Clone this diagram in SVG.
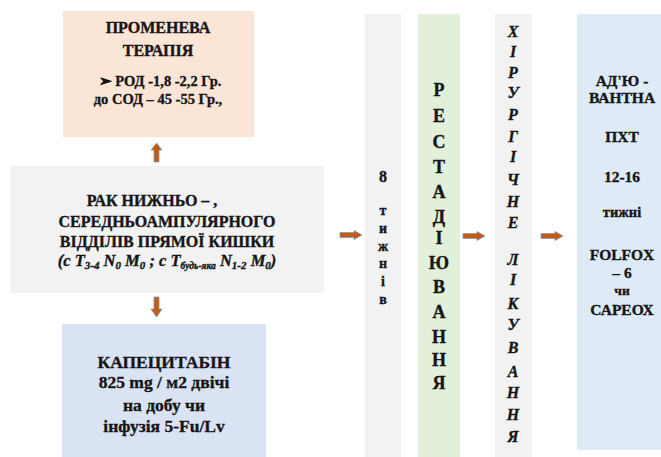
<svg xmlns="http://www.w3.org/2000/svg" width="661" height="457" viewBox="0 0 661 457">
  <style>
    .t { font-family: "Liberation Serif", "Times New Roman", serif; font-weight: bold; fill: #161616; stroke: #161616; stroke-width: 0.35; text-anchor: middle; }
    .i { font-style: italic; }
    .arrow { fill: #C55A11; stroke: #7F9BB8; stroke-width: 0.8; }
  </style>
  <defs>
    <!-- block arrow pointing right, centred on its tip line -->
    <path id="ra" d="M0,-2.5 H14 V-4.5 L22,0 L14,4.5 V2.5 H0 Z"/>
  </defs>
  <rect width="661" height="457" fill="#ffffff"/>

  <g id="radiotherapy">
    <rect x="63" y="11" width="191" height="126" fill="#FBE5D6"/>
    <text class="t" x="158" y="33" font-size="16">ПРОМЕНЕВА</text>
    <text class="t" x="158" y="56" font-size="16">ТЕРАПІЯ</text>
    <text class="t" x="160" y="86" font-size="14.5">➢  РОД -1,8 -2,2 Гр.</text>
    <text class="t" x="158" y="104" font-size="14.5">до СОД – 45 -55 Гр.,</text>
  </g>

  <g id="cancer">
    <rect x="10" y="166" width="314" height="127" fill="#F2F2F2"/>
    <text class="t" x="152" y="206" font-size="16">РАК НИЖНЬО – ,</text>
    <text class="t" x="167" y="227" font-size="16">СЕРЕДНЬОАМПУЛЯРНОГО</text>
    <text class="t" x="167" y="247" font-size="16">ВІДДІЛІВ ПРЯМОЇ КИШКИ</text>
    <text class="t i" x="167" y="266" font-size="16.5">(с T<tspan font-size="11" dy="3">3-4</tspan><tspan dy="-3"> N</tspan><tspan font-size="11" dy="3">0</tspan><tspan dy="-3"> M</tspan><tspan font-size="11" dy="3">0</tspan><tspan dy="-3"> ; с T</tspan><tspan font-size="9.5" dy="3">будь-яка</tspan><tspan dy="-3"> N</tspan><tspan font-size="11" dy="3">1-2</tspan><tspan dy="-3"> M</tspan><tspan font-size="11" dy="3">0</tspan><tspan dy="-3">)</tspan></text>
  </g>

  <g id="capecitabine">
    <rect x="62" y="324" width="204" height="133" fill="#DAE3F3"/>
    <text class="t" x="164" y="368" font-size="17.5">КАПЕЦИТАБІН</text>
    <text class="t" x="164" y="388" font-size="17.5">825 mg / м2  двічі</text>
    <text class="t" x="164" y="411" font-size="17.5">на добу чи</text>
    <text class="t" x="164" y="432" font-size="17.5">інфузія 5-Fu/Lv</text>
  </g>

  <g id="weeks">
    <rect x="365" y="14" width="36" height="443" fill="#F2F2F2"/>
    <text class="t" x="383" y="182" font-size="16">8</text>
    <g font-size="14">
      <text class="t" x="383" y="215">т</text>
      <text class="t" x="383" y="233">и</text>
      <text class="t" x="383" y="251">ж</text>
      <text class="t" x="383" y="268">н</text>
      <text class="t" x="383" y="286">і</text>
      <text class="t" x="383" y="304">в</text>
    </g>
  </g>

  <g id="restaging" font-size="18">
    <rect x="418" y="14" width="42" height="443" fill="#E2F0D9"/>
    <text class="t" x="439" y="96">Р</text>
    <text class="t" x="439" y="122">Е</text>
    <text class="t" x="439" y="148">С</text>
    <text class="t" x="439" y="173">Т</text>
    <text class="t" x="439" y="198">А</text>
    <text class="t" x="439" y="223">Д</text>
    <text class="t" x="439" y="244">І</text>
    <text class="t" x="439" y="269">Ю</text>
    <text class="t" x="439" y="293">В</text>
    <text class="t" x="439" y="318">А</text>
    <text class="t" x="439" y="343">Н</text>
    <text class="t" x="439" y="366">Н</text>
    <text class="t" x="439" y="389">Я</text>
  </g>

  <g id="surgery" font-size="16">
    <rect x="495" y="14" width="37" height="443" fill="#F2F2F2"/>
    <text class="t i" x="513" y="37">Х</text>
    <text class="t i" x="513" y="57">І</text>
    <text class="t i" x="513" y="78">Р</text>
    <text class="t i" x="513" y="98">У</text>
    <text class="t i" x="513" y="120">Р</text>
    <text class="t i" x="513" y="142">Г</text>
    <text class="t i" x="513" y="162">І</text>
    <text class="t i" x="513" y="185">Ч</text>
    <text class="t i" x="513" y="207">Н</text>
    <text class="t i" x="513" y="228">Е</text>
    <text class="t i" x="513" y="265">Л</text>
    <text class="t i" x="513" y="285">І</text>
    <text class="t i" x="513" y="309">К</text>
    <text class="t i" x="513" y="330">У</text>
    <text class="t i" x="513" y="353">В</text>
    <text class="t i" x="513" y="377">А</text>
    <text class="t i" x="513" y="398">Н</text>
    <text class="t i" x="513" y="420">Н</text>
    <text class="t i" x="513" y="442">Я</text>
  </g>

  <g id="adjuvant" font-size="15.5">
    <rect x="577" y="14" width="84" height="436" fill="#DEEBF7"/>
    <text class="t" x="622" y="86">АД'Ю -</text>
    <text class="t" x="622" y="103">ВАНТНА</text>
    <text class="t" x="622" y="142">ПХТ</text>
    <text class="t" x="622" y="182">12-16</text>
    <text class="t" x="622" y="217" font-size="14.5">тижні</text>
    <text class="t" x="622" y="260">FOLFOX</text>
    <text class="t" x="622" y="278">– 6</text>
    <text class="t" x="622" y="295" font-size="13.5">чи</text>
    <text class="t" x="622" y="315">САРЕОХ</text>
  </g>

  <g id="connectors">
    <!-- vertical arrows from the primary box -->
    <path class="arrow" d="M154,162 V150 H151 L156.5,143 L162,150 H159 V162 Z"/>
    <path class="arrow" d="M154,297 V309 H151 L156.5,317 L162,309 H159 V297 Z"/>
    <!-- horizontal arrows along the treatment sequence -->
    <use href="#ra" class="arrow" x="340" y="235"/>
    <use href="#ra" class="arrow" x="463" y="236"/>
    <use href="#ra" class="arrow" x="541" y="236"/>
  </g>
</svg>
